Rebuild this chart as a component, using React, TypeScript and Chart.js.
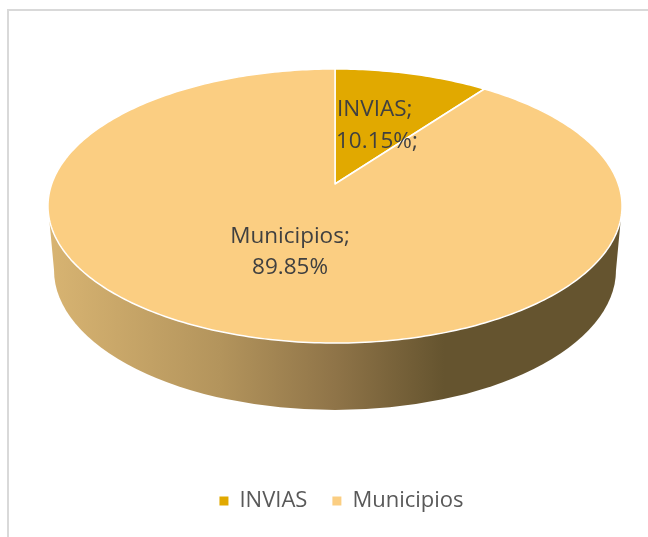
import React, { useEffect, useRef } from "react";
import { Chart, registerables } from "chart.js";

Chart.register(...registerables);

const categories = ["INVIAS", "Municipios"];
const shares = [10.15, 89.85];
const sliceColors = ["#E1A900", "#FBCE82"];
const sliceLabelSuffixes = ["%;", "%"];

const FONT = "'Open Sans', Lato, sans-serif";

// Projective tilt of the pie: the hub sits above the middle of the oval, as it does in perspective.
const HUB_X = 335;
const HUB_Y = 184;
const SCALE_X = 283.3;
const SCALE_Y = 133.5;
const TILT = -0.1606;

// Oval of the top face and of the lower rim of the side wall.
const TOP_CY = 206;
const TOP_RX = 287;
const RIM_CY = 270;
const RIM_RX = 281;
const RIM_RY = 140;

const project = (angle: number): [number, number] => {
  const u = Math.cos(angle);
  const v = Math.sin(angle);
  const w = 1 + TILT * v;
  return [HUB_X + (SCALE_X * u) / w, HUB_Y + (SCALE_Y * v) / w];
};

const tiltedPie = {
  id: "tiltedPie",
  beforeDatasetsDraw(chart: Chart) {
    const { ctx } = chart;
    const slices = chart.getDatasetMeta(0).data as any[];
    ctx.save();

    // Frame: only the top and left edges fall inside the canvas.
    ctx.strokeStyle = "#D9D9D9";
    ctx.lineWidth = 2;
    ctx.beginPath();
    ctx.moveTo(8, 537);
    ctx.lineTo(8, 10);
    ctx.lineTo(648, 10);
    ctx.stroke();

    // Side wall, lit from the left.
    const wall = ctx.createLinearGradient(HUB_X - TOP_RX, 0, HUB_X + TOP_RX, 0);
    wall.addColorStop(0, "#D8B472");
    wall.addColorStop(0.3, "#B3945C");
    wall.addColorStop(0.5, "#8F7448");
    wall.addColorStop(0.69, "#65542F");
    wall.addColorStop(1, "#65542F");
    ctx.fillStyle = wall;
    ctx.beginPath();
    ctx.ellipse(HUB_X, RIM_CY, RIM_RX, RIM_RY, 0, 0, Math.PI * 2);
    ctx.fill();
    ctx.beginPath();
    ctx.moveTo(HUB_X - TOP_RX, TOP_CY);
    ctx.lineTo(HUB_X - RIM_RX, RIM_CY);
    ctx.lineTo(HUB_X + RIM_RX, RIM_CY);
    ctx.lineTo(HUB_X + TOP_RX, TOP_CY);
    ctx.closePath();
    ctx.fill();

    // Top face, one path per slice from the angles the controller computed.
    slices.forEach((arc, i) => {
      const steps = Math.max(8, Math.ceil((arc.endAngle - arc.startAngle) * 60));
      ctx.beginPath();
      ctx.moveTo(HUB_X, HUB_Y);
      for (let s = 0; s <= steps; s++) {
        const [x, y] = project(arc.startAngle + ((arc.endAngle - arc.startAngle) * s) / steps);
        ctx.lineTo(x, y);
      }
      ctx.closePath();
      ctx.fillStyle = sliceColors[i];
      ctx.fill();
      ctx.strokeStyle = "#FFFFFF";
      ctx.lineWidth = 1.5;
      ctx.lineJoin = "round";
      ctx.stroke();
    });

    // Data labels.
    ctx.fillStyle = "#404040";
    ctx.font = `22.5px ${FONT}`;
    ctx.textBaseline = "middle";
    ctx.textAlign = "left";
    ctx.fillText(`${categories[0]};`, 337, 110);
    ctx.fillText(`${shares[0].toFixed(2)}${sliceLabelSuffixes[0]}`, 336, 142);
    ctx.textAlign = "center";
    ctx.fillText(`${categories[1]};`, 290, 237);
    ctx.fillText(`${shares[1].toFixed(2)}${sliceLabelSuffixes[1]}`, 290, 268);

    ctx.restore();
    return false;
  },
};

export default function App() {
  const canvasRef = useRef<HTMLCanvasElement>(null);

  useEffect(() => {
    const chart = new Chart(canvasRef.current!, {
      type: "pie",
      data: {
        labels: categories,
        datasets: [{ data: shares, backgroundColor: sliceColors, borderWidth: 0 }],
      },
      options: {
        responsive: false,
        animation: false,
        layout: { padding: { left: 35, bottom: 15, top: 60 } },
        plugins: {
          tooltip: { enabled: false },
          legend: {
            position: "bottom",
            labels: {
              color: "#595959",
              font: { family: FONT, size: 22 },
              boxWidth: 9,
              boxHeight: 9,
              padding: 25,
              usePointStyle: true,
              pointStyle: "rect",
            },
          },
        },
      },
      plugins: [tiltedPie],
    } as any);
    return () => chart.destroy();
  }, []);

  return (
    <canvas
      ref={canvasRef}
      width={648}
      height={537}
      style={{ position: "fixed", left: 0, top: 0, display: "block", width: 648, height: 537 }}
    />
  );
}
